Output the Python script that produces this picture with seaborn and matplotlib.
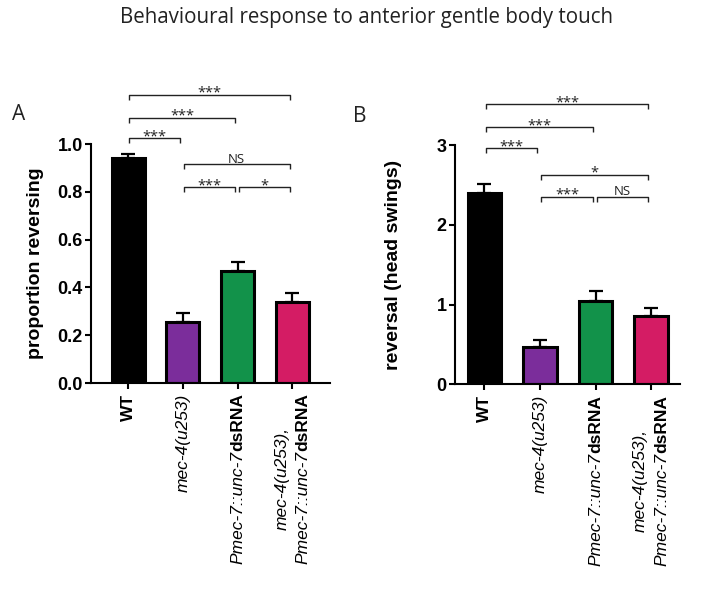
import matplotlib
matplotlib.use("Agg")
import matplotlib.pyplot as plt
import matplotlib.transforms as mtransforms
import seaborn as sns
import numpy as np

# ---------------- data ----------------
strains = ["WT", "mec-4(u253)", "Pmec-7::unc-7dsRNA", "mec-4(u253), Pmec-7::unc-7dsRNA"]
colors = ["#000000", "#7B2D9B", "#12924A", "#D41C64"]

prop_mean = [0.94, 0.256, 0.470, 0.337]
prop_sem = [0.020, 0.037, 0.037, 0.038]

rev_mean = [2.40, 0.47, 1.04, 0.85]
rev_sem = [0.11, 0.08, 0.13, 0.11]

# comparisons: (group i, group j, label, bracket height in data units)
comp_A = [(0, 1, "***", 1.025), (0, 2, "***", 1.11), (0, 3, "***", 1.207),
          (1, 3, "NS", 0.915), (1, 2, "***", 0.82), (2, 3, "*", 0.82)]
comp_B = [(0, 1, "***", 2.96), (0, 2, "***", 3.22), (0, 3, "***", 3.51),
          (1, 3, "*", 2.63), (1, 2, "***", 2.35), (2, 3, "NS", 2.35)]

# tick label pieces: lines -> (text, style, weight)
tick_pieces = [
    [[("WT", "normal", "bold")]],
    [[("mec-4(u253)", "italic", "normal")]],
    [[("Pmec-7::unc-7", "italic", "normal"), ("dsRNA", "normal", "bold")]],
    [[("mec-4(u253),", "italic", "normal")],
     [("Pmec-7::unc-7", "italic", "normal"), ("dsRNA", "normal", "bold")]],
]

title = "Behavioural response to anterior gentle body touch"
ylabel_A = "proportion reversing"
ylabel_B = "reversal (head swings)"
yticks_A = [0.0, 0.2, 0.4, 0.6, 0.8, 1.0]
yticks_B = [0, 1, 2, 3]

# ---------------- style ----------------
sns.set_theme(style="ticks")
plt.rcParams["font.family"] = ["Liberation Sans", "DejaVu Sans"]
plt.rcParams["text.color"] = "black"
plt.rcParams["axes.labelcolor"] = "black"
plt.rcParams["xtick.color"] = "black"
plt.rcParams["ytick.color"] = "black"
ANNOT_FONT = ["Open Sans", "DejaVu Sans"]

DPI = 100
fig = plt.figure(figsize=(7.09, 5.89), dpi=DPI)
fig.patch.set_facecolor("white")

axA = fig.add_axes([91 / 709, 1 - 383 / 589, (330 - 91) / 709, (383 - 144) / 589])
axB = fig.add_axes([455 / 709, 1 - 384.3 / 589, (680 - 455) / 709, (384.3 - 145) / 589])

TICK_FS = 12.5
LABEL_FS = 14


def draw_panel(ax, means, sems, ylim, yticks, yfmt, ylabel, xlim, comps, label_x):
    sns.barplot(x=strains, y=means, hue=strains, palette=colors, ax=ax,
                width=0.6, edgecolor="black", linewidth=2.2, legend=False,
                errorbar=None, saturation=1)
    xs = np.arange(len(strains))
    ax.errorbar(xs, means, yerr=[np.zeros(len(means)), sems], fmt="none",
                ecolor="black", elinewidth=1.6, capsize=5, capthick=1.6, zorder=1)
    ax.set_xlim(*xlim)
    ax.set_ylim(*ylim)
    ax.set_yticks(yticks)
    ax.set_yticklabels([yfmt.format(t) for t in yticks], fontsize=13, fontweight="bold",
                       color="black")
    ax.set_xticks(xs)
    ax.set_xticklabels([""] * len(xs))
    ax.set_xlabel("")
    ax.set_ylabel(ylabel, fontsize=LABEL_FS, fontweight="bold", color="black")
    ax.yaxis.set_label_coords(label_x, 0.5)
    sns.despine(ax=ax)
    for s in ("left", "bottom"):
        ax.spines[s].set_linewidth(1.5)
        ax.spines[s].set_color("black")
    ax.tick_params(axis="both", direction="out", length=4.5, width=1.5, color="black",
                   pad=1.5, labelcolor="black")
    ax.set_facecolor("white")

    # significance brackets
    rng = ylim[1] - ylim[0]
    drop = 0.021 * rng
    for i, j, lab, h in comps:
        x0, x1 = i + 0.02, j - 0.05
        ax.plot([x0, x0, x1, x1], [h - drop, h, h, h - drop], color="#222222",
                lw=1.0, clip_on=False, solid_capstyle="butt")
        off = -1.5 if "*" in lab else 1.0
        fs = 10.5 if "*" in lab else 9.5
        ax.annotate(lab, xy=((x0 + x1) / 2, h), xytext=(0, off), textcoords="offset points",
                    ha="center", va="baseline", fontsize=fs, family=ANNOT_FONT,
                    color="#222222", annotation_clip=False)

    # tick labels composed of styled pieces
    renderer = fig.canvas.get_renderer()
    base = ax.get_xaxis_transform()
    top_pad = 4.5 + 3.0
    LS = 1.2 * TICK_FS
    for xi, lines in zip(xs, tick_pieces):
        n = len(lines)
        measured = []
        for line in lines:
            lens = []
            for txt, st, wt in line:
                t = ax.text(0, 0, txt, fontsize=TICK_FS, style=st, fontweight=wt, rotation=90)
                bb = t.get_window_extent(renderer=renderer)
                lens.append(bb.height * 72 / DPI)
                t.remove()
            measured.append(lens)
        Lmax = max(sum(l) for l in measured)
        for k, (line, lens) in enumerate(zip(lines, measured)):
            dx = (k - (n - 1) / 2) * LS
            center = -top_pad - Lmax / 2
            start = center - sum(lens) / 2
            cum = 0
            for (txt, st, wt), ln in zip(line, lens):
                tr = mtransforms.offset_copy(base, fig=fig, x=dx, y=start + cum, units="points")
                ax.text(xi, 0, txt, transform=tr, fontsize=TICK_FS, style=st, fontweight=wt,
                        rotation=90, ha="center", va="bottom", clip_on=False, color="black")
                cum += ln


draw_panel(axA, prop_mean, prop_sem, (0, 1.0), yticks_A, "{:.1f}", ylabel_A,
           (-0.68, 3.69), comp_A, -0.195)
draw_panel(axB, rev_mean, rev_sem, (0, 3.0), yticks_B, "{:d}", ylabel_B,
           (-0.53, 3.52), comp_B, -0.235)

fig.text(366 / 709, 1 - 18 / 589, title, ha="center", va="center", fontsize=14.8,
         family=ANNOT_FONT, color="#222222")
fig.text(19 / 709, 1 - 114 / 589, "A", ha="center", va="center", fontsize=15,
         family=ANNOT_FONT, color="#222222")
fig.text(360 / 709, 1 - 116 / 589, "B", ha="center", va="center", fontsize=15,
         family=ANNOT_FONT, color="#222222")

fig.savefig("out.png", dpi=DPI, facecolor="white")
